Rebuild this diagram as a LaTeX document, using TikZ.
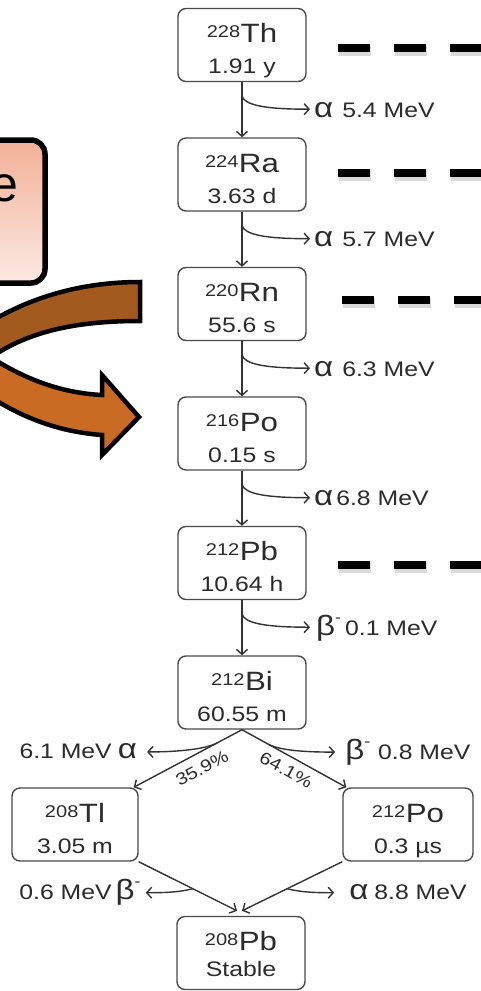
\documentclass[tikz,border=0pt]{standalone}
\usepackage{fontspec}
\setmainfont{Liberation Sans}
\newfontfamily\lbl{Liberation Sans}[FakeStretch=1.18]
\usetikzlibrary{arrows.meta,calc}
\definecolor{txt}{HTML}{2B2B2B}
\definecolor{boxgray}{HTML}{4A4A4A}
\definecolor{arrgray}{HTML}{333333}
\definecolor{darkbrown}{HTML}{A35A1F}
\definecolor{orangebrown}{HTML}{C96B22}
\definecolor{pinktop}{HTML}{F2B096}
\definecolor{pinkbot}{HTML}{FBE9E3}
\newcommand\isobox[5][31pt]{%
  \begin{minipage}[c][73pt][t]{#2}\centering\offinterlineskip
  \rule{0pt}{34pt}\fontsize{26.5}{26.5}\selectfont\raisebox{5pt}{\fontsize{17}{17}\selectfont #3}\kern0.5pt#4\par
  \rule{0pt}{#1}\fontsize{21}{21}\selectfont #5\par
  \end{minipage}}
\newcommand\alp{{\fontsize{28}{28}\selectfont α}}
\newcommand\betam{{\fontsize{28}{28}\selectfont β}\raisebox{13pt}{\fontsize{15}{15}\selectfont -}}
\tikzset{
  iso/.style={draw=boxgray, line width=1.4pt, rounded corners=8pt, inner sep=0pt, text=txt, font=\lbl},
  arr/.style={draw=arrgray, line width=1.4pt, -{Straight Barb[length=5pt,width=11pt]}},
  lab/.style={text=txt, font=\lbl\fontsize{21}{21}\selectfont, inner sep=0pt},
  pct/.style={text=txt, font=\lbl\fontsize{17}{17}\selectfont, inner sep=0pt},
  dashbar/.style={draw=black, line width=8pt, dash pattern=on 32pt off 24pt},
  dashshadow/.style={draw=black!60, opacity=0.25, line width=10pt, dash pattern=on 32pt off 24pt},
  band/.style={draw=black, line width=4.5pt, line join=miter},
}
\begin{document}
\begin{tikzpicture}[x=1pt,y=-1pt]
\useasboundingbox (0,0) rectangle (481,991);
\clip (0,0) rectangle (481,991);

% left decorations
\draw[line width=5.5pt, rounded corners=14pt, top color=pinktop, bottom color=pinkbot] (-40,140) rectangle (45,283);
\node[anchor=base east, inner sep=0pt, font=\fontsize{50}{50}\selectfont] (etxt) at (19,201) {e};
\filldraw[band, fill=orangebrown] (-20,350) .. controls (20,378) and (60,393) .. (102,395) -- (102,375) -- (139,417) -- (102,455) -- (102,435) .. controls (60,432) and (20,418) .. (-20,390) -- cycle;
\filldraw[band, fill=darkbrown] (140,282) -- (140,321) .. controls (80,321) and (30,330) .. (-10,358) -- (-30,358) -- (-30,322) -- (-10,322) .. controls (30,298) and (80,282) .. (140,282) -- cycle;

% dashed bars
\foreach \yy/\xx in {48/338, 173/338, 300/342, 565/338}{
  \draw[dashshadow] (\xx+1,\yy+3) -- (500,\yy+3);
  \draw[dashbar] (\xx,\yy) -- (500,\yy);
}

% nodes
\node[iso] (th) at (242,45) {\isobox{128pt}{228}{Th}{1.91 y}};
\node[iso] (ra) at (242,174.5) {\isobox{128pt}{224}{Ra}{3.63 d}};
\node[iso] (rn) at (242,304) {\isobox{128pt}{220}{Rn}{55.6 s}};
\node[iso] (po) at (242,433.5) {\isobox{128pt}{216}{Po}{0.15 s}};
\node[iso] (pb) at (242,563) {\isobox{128pt}{212}{Pb}{10.64 h}};
\node[iso] (bi) at (242,692.5) {\isobox{128pt}{212}{Bi}{60.55 m}};
\node[iso] (tl) at (75,824.5) {\isobox{126pt}{208}{Tl}{3.05 m}};
\node[iso] (po2) at (408,824.5) {\isobox{130pt}{212}{Po}{0.3 µs}};
\node[iso] (pbb) at (241,953) {\isobox[26pt]{128pt}{208}{Pb}{Stable}};

% chain arrows
\foreach \a/\b/\i in {th/ra/1, ra/rn/2, rn/po/3, po/pb/4, pb/bi/5}{
  \draw[arr] (\a.south) -- (\b.north);
  \coordinate (s\i) at ($(\a.south)+(0,14)$);
  \coordinate (e\i) at ($(\a.south)+(68,27)$);
  \draw[arr] (s\i) .. controls ($(s\i)+(3,9)$) and ($(e\i)+(-45,0)$) .. (e\i);
}
\node[lab, anchor=base west] (t1) at ($(e1)+(4,8)$) {\alp\kern9pt 5.4 MeV};
\node[lab, anchor=base west] (t2) at ($(e2)+(4,8)$) {\alp\kern9pt 5.7 MeV};
\node[lab, anchor=base west] (t3) at ($(e3)+(4,8)$) {\alp\kern9pt 6.3 MeV};
\node[lab, anchor=base west] (t4) at ($(e4)+(4,8)$) {\alp\kern3pt 6.8 MeV};
\node[lab, anchor=base west] (t5) at ($(e5)+(6,8)$) {\betam\kern4pt 0.1 MeV};

% Bi branching
\coordinate (tlin) at ([xshift=-5pt]tl.north east);
\coordinate (poin) at ([xshift=4pt]po2.north west);
\draw[arr] (bi.south) -- (tlin);
\draw[arr] (bi.south) -- (poin);
\coordinate (bls) at ($(bi.south)!0.23!(tlin)$);
\coordinate (ble) at ($(bls)+(-70,9)$);
\coordinate (brs) at ($(bi.south)!0.25!(poin)$);
\coordinate (bre) at ($(brs)+(67,8)$);
\draw[arr] (bls) .. controls ($(bls)+(-13,7)$) and ($(ble)+(25,0)$) .. (ble);
\draw[arr] (brs) .. controls ($(brs)+(13,7)$) and ($(bre)+(-25,0)$) .. (bre);
\node[lab, anchor=base east] (lbl) at ($(ble)+(-10,7)$) {6.1 MeV\kern6pt\alp};
\node[lab, anchor=base west] (lbr) at ($(bre)+(10,7)$) {\betam\kern8pt 0.8 MeV};
\node[pct, rotate=27.6] (p1) at (202,768) {35.9\%};
\node[pct, rotate=-28.5] (p2) at (286,770) {64.1\%};

% bottom merging
\coordinate (pbl) at ([xshift=-4pt,yshift=5pt]pbb.north);
\coordinate (pbr) at ([xshift=1pt,yshift=5pt]pbb.north);
\draw[arr] (tl.south east) -- (pbl);
\draw[arr] (po2.south west) -- (pbr);
\coordinate (dls) at ($(tl.south east)!0.55!(pbl)$);
\coordinate (dle) at ($(dls)+(-47,4)$);
\coordinate (drs) at ($(po2.south west)!0.55!(pbr)$);
\coordinate (dre) at ($(drs)+(47,4)$);
\draw[arr] (dls) .. controls ($(dls)+(-15,4)$) and ($(dle)+(15,0)$) .. (dle);
\draw[arr] (drs) .. controls ($(drs)+(15,4)$) and ($(dre)+(-15,0)$) .. (dre);
\node[lab, anchor=base east] (lbl2) at ($(dle)+(-5,7)$) {0.6 MeV\kern4pt\betam};
\node[lab, anchor=base west] (lbr2) at ($(dre)+(15,7)$) {\alp\kern6pt 8.8 MeV};
\end{tikzpicture}
\end{document}
